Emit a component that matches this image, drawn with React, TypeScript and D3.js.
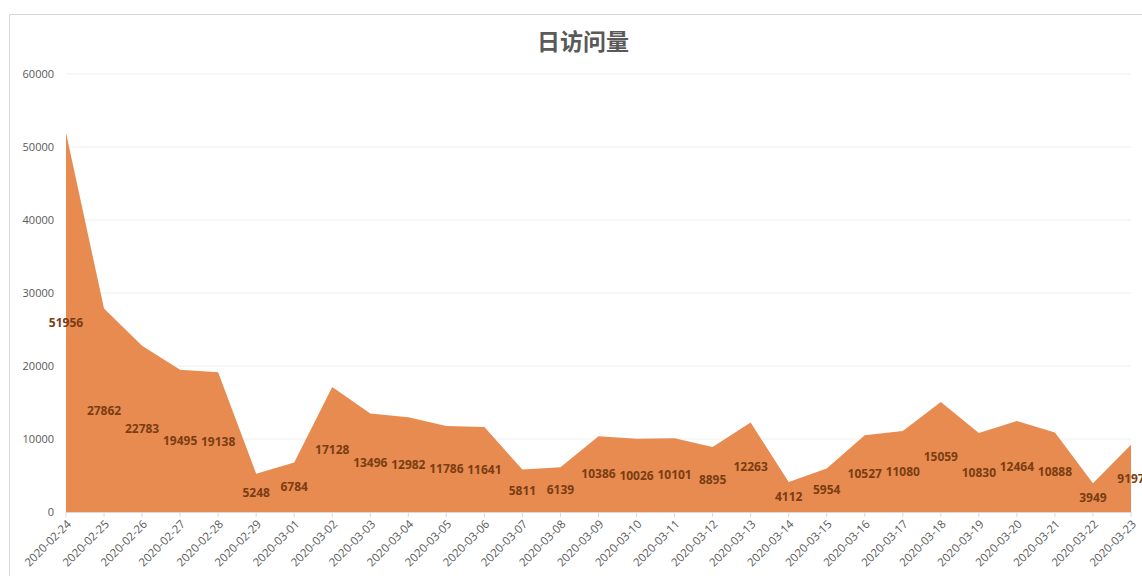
import { useMemo } from 'react'
import { area, scaleLinear, scalePoint } from 'd3'

// 日访问量 — Excel 风格的面积图，数据标签放在面积高度的一半处

const DATES = [
  '2020-02-24', '2020-02-25', '2020-02-26', '2020-02-27', '2020-02-28', '2020-02-29',
  '2020-03-01', '2020-03-02', '2020-03-03', '2020-03-04', '2020-03-05', '2020-03-06',
  '2020-03-07', '2020-03-08', '2020-03-09', '2020-03-10', '2020-03-11', '2020-03-12',
  '2020-03-13', '2020-03-14', '2020-03-15', '2020-03-16', '2020-03-17', '2020-03-18',
  '2020-03-19', '2020-03-20', '2020-03-21', '2020-03-22', '2020-03-23',
]

const VISITS = [
  51956, 27862, 22783, 19495, 19138, 5248,
  6784, 17128, 13496, 12982, 11786, 11641,
  5811, 6139, 10386, 10026, 10101, 8895,
  12263, 4112, 5954, 10527, 11080, 15059,
  10830, 12464, 10888, 3949, 9197,
]

const Y_TICKS = [0, 10000, 20000, 30000, 40000, 50000, 60000]

const W = 1142
const H = 576
const PLOT = { left: 66, right: 1131, top: 74, bottom: 512 }
const FONT = '"Open Sans", "Noto Sans", sans-serif'

export default function App() {
  const x = useMemo(
    () => scalePoint<string>().domain(DATES).range([PLOT.left, PLOT.right]),
    [],
  )
  const y = useMemo(() => scaleLinear().domain([0, 60000]).range([PLOT.bottom, PLOT.top]), [])

  const rows = DATES.map((d, i) => ({ date: d, value: VISITS[i] }))
  const path =
    area<{ date: string; value: number }>()
      .x((d) => x(d.date) ?? 0)
      .y0(y(0))
      .y1((d) => y(d.value))(rows) ?? ''

  return (
    <svg
      width={W}
      height={H}
      viewBox={`0 0 ${W} ${H}`}
      style={{ position: 'absolute', left: 0, top: 0, background: '#fff' }}
    >
      {/* chart frame */}
      <line x1={9.5} y1={14.5} x2={W} y2={14.5} stroke="#d9d9d9" strokeWidth={1} />
      <line x1={9.5} y1={14.5} x2={9.5} y2={H} stroke="#d9d9d9" strokeWidth={1} />

      <text
        x={583}
        y={50}
        textAnchor="middle"
        fontFamily='"Noto Sans CJK SC", sans-serif'
        fontSize={23}
        fontWeight={700}
        fill="#595959"
      >
        日访问量
      </text>

      {Y_TICKS.map((t) => (
        <g key={t}>
          {t > 0 && (
            <line x1={PLOT.left} x2={PLOT.right} y1={y(t)} y2={y(t)} stroke="#eeeeee" strokeWidth={1} />
          )}
          <text
            x={54}
            y={y(t)}
            dy="0.35em"
            textAnchor="end"
            fontFamily={FONT}
            fontSize={11}
            fill="#595959"
          >
            {t}
          </text>
        </g>
      ))}

      <path d={path} fill="#e88b51" />

      {/* baseline + category ticks */}
      <line x1={PLOT.left} x2={PLOT.right} y1={PLOT.bottom + 0.5} y2={PLOT.bottom + 0.5} stroke="#d9d9d9" />
      {DATES.map((d) => {
        const cx = x(d) ?? 0
        return (
          <g key={d}>
            <line x1={cx} x2={cx} y1={PLOT.bottom} y2={PLOT.bottom + 5} stroke="#d9d9d9" />
            <text
              transform={`translate(${cx + 3}, ${PLOT.bottom + 10}) rotate(-45)`}
              textAnchor="end"
              dy="0.35em"
              fontFamily={FONT}
              fontSize={11.5}
              fill="#595959"
            >
              {d}
            </text>
          </g>
        )
      })}

      {rows.map((d) => (
        <text
          key={d.date}
          x={x(d.date) ?? 0}
          y={y(d.value / 2)}
          dy="0.35em"
          textAnchor="middle"
          fontFamily={FONT}
          fontSize={12}
          fontWeight={700}
          fill="#7a3d12"
        >
          {d.value}
        </text>
      ))}
    </svg>
  )
}
